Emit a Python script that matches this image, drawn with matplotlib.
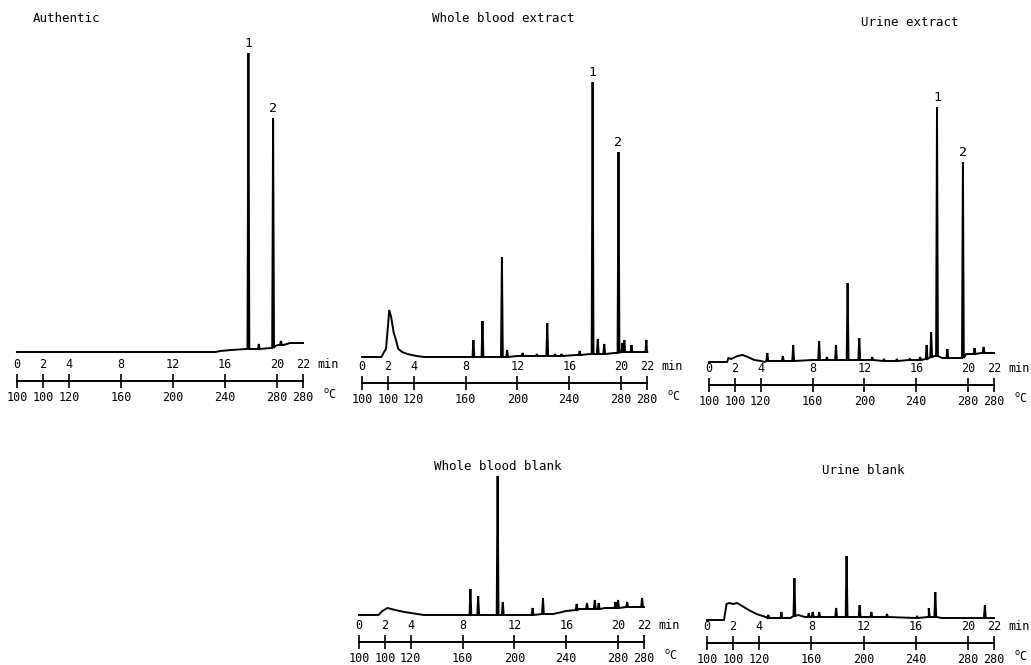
import matplotlib
matplotlib.use("Agg")
import matplotlib.pyplot as plt

W, H = 1031, 665

# ---------------- data -----------------
tick_min = [0, 2, 4, 8, 12, 16, 20, 22]
tick_temp = ["100", "100", "120", "160", "200", "240", "280", "280"]

titles = ["Authentic", "Whole blood extract", "Urine extract",
          "Whole blood blank", "Urine blank"]

# Authentic
a_base_t = [0, 8, 15.3, 15.6, 16.5, 17.6, 17.95, 18.4, 19.5, 19.85, 20.1, 20.5, 21.0, 22.0]
a_base_v = [0, 0, 0, 1, 2, 3, 3, 3, 4, 6, 7, 7, 9, 9]
a_peak_t = [17.8, 18.6, 19.7, 20.3]
a_peak_top = [299, 8, 234, 11]
a_peak_foot = [3, 3, 4, 7]

# Whole blood extract
b_base_t = [0, 1.5, 1.7, 1.85, 2.0, 2.1, 2.25, 2.45, 2.6, 2.8, 3.1, 3.5, 4.2, 4.8, 8.3,
            12.0, 15.0, 16.5, 17.6, 18.0, 19.5, 19.95, 21.0, 21.8, 22.0]
b_base_v = [0, 0, 5, 8, 30, 47, 40, 24, 18, 8, 5, 3, 1, 0, 0,
            1, 1, 2, 3, 3, 4, 5, 5, 5, 5]
b_peak_t = [8.6, 9.3, 10.8, 11.2, 12.4, 13.5, 14.3, 14.9, 15.4, 16.8,
            17.8, 18.2, 18.7, 19.8, 20.1, 20.25, 20.8, 21.95]
b_peak_top = [17, 36, 100, 7, 4, 3, 34, 3, 3, 6,
              275, 18, 13, 205, 14, 17, 12, 17]
b_peak_foot = [0, 0, 0, 0, 1, 1, 1, 1, 1, 2,
               3, 3, 3, 4, 5, 5, 5, 5]

# Urine extract
c_base_t = [0, 1.4, 1.5, 1.7, 2.2, 2.6, 3.0, 3.5, 4.0, 4.3, 6.0, 8.0, 10.0, 12.0,
            14.0, 16.0, 17.0, 17.4, 18.0, 19.4, 19.85, 21.0, 22.0]
c_base_v = [0, 0, 4, 3, 6, 7, 5, 2, 1, 0, 1, 2, 2, 2,
            1, 2, 4, 6, 4, 4, 8, 9, 9]
c_peak_t = [4.5, 5.7, 6.5, 8.5, 9.1, 9.8, 10.7, 11.6, 12.6, 13.5, 14.5, 15.5, 16.3,
            16.8, 17.15, 17.6, 18.4, 19.6, 20.5, 21.2]
c_peak_top = [9, 6, 17, 21, 5, 17, 79, 24, 5, 3, 3, 3, 5,
              17, 30, 255, 13, 200, 14, 15]
c_peak_foot = [1, 1, 1, 2, 2, 2, 2, 2, 2, 1, 1, 2, 2,
               3, 5, 6, 4, 4, 8, 9]

# Whole blood blank
d_base_t = [0, 1.5, 1.8, 2.2, 2.8, 3.5, 4.5, 5.0, 8.4, 15.0, 16.0, 17.0, 19.0, 21.0, 22.0]
d_base_v = [0, 0, 4, 7, 5, 3, 1, 0, 0, 1, 4, 6, 7, 8, 8]
d_peak_t = [8.6, 9.2, 10.7, 11.1, 13.4, 14.2, 16.8, 17.6, 18.2, 18.5,
            19.8, 20.0, 20.7, 21.85]
d_peak_top = [26, 19, 139, 13, 7, 17, 11, 12, 15, 12, 13, 15, 13, 17]
d_peak_foot = [0, 0, 0, 0, 0, 1, 5, 6, 6, 6, 7, 7, 8, 8]

# Urine blank
e_base_t = [0, 1.3, 1.5, 1.7, 2.0, 2.3, 2.7, 3.2, 3.8, 4.5, 5.0, 6.4, 7.0, 7.5, 8.0,
            12.0, 16.0, 17.0, 18.0, 22.0]
e_base_v = [0, 0, 16, 17, 16, 17, 14, 10, 6, 3, 2, 2, 5, 3, 3,
            3, 2, 3, 2, 2]
e_peak_t = [4.7, 5.7, 6.7, 7.8, 8.1, 8.6, 9.9, 10.7, 11.7, 12.6, 13.8, 16.1,
            17.0, 17.5, 21.3]
e_peak_top = [5, 8, 42, 7, 8, 8, 12, 64, 15, 8, 6, 4, 12, 28, 15]
e_peak_foot = [2, 2, 4, 3, 3, 3, 3, 3, 3, 3, 3, 2, 3, 3, 2]

# ------------- layout (pixels) -------------
# (x at 0 min, x at 22 min, baseline y, axis y, title x, title y)
layout = [
    (17, 303, 352, 381, 67, 18),
    (362, 647, 357, 383, 503, 18),
    (709, 994, 362, 385, 910, 22),
    (359, 644, 615, 642, 498, 467),
    (707, 994, 620, 643, 863, 471),
]

series = [
    (a_base_t, a_base_v, a_peak_t, a_peak_top, a_peak_foot),
    (b_base_t, b_base_v, b_peak_t, b_peak_top, b_peak_foot),
    (c_base_t, c_base_v, c_peak_t, c_peak_top, c_peak_foot),
    (d_base_t, d_base_v, d_peak_t, d_peak_top, d_peak_foot),
    (e_base_t, e_base_v, e_peak_t, e_peak_top, e_peak_foot),
]

labelled = {0: [(17.8, "1"), (19.7, "2")],
            1: [(17.8, "1"), (19.8, "2")],
            2: [(17.6, "1"), (19.6, "2")]}

FONT = "DejaVu Sans Mono"
plt.rcParams["font.family"] = [FONT]

fig = plt.figure(figsize=(W / 100, H / 100), dpi=100)
fig.patch.set_facecolor("white")


def build(bt, bv, pt, ptop, pfoot, w=0.07):
    pts = list(zip(bt, bv))
    for t, top, f in zip(pt, ptop, pfoot):
        pts += [(t - w, f), (t, top), (t + w, f)]
    pts.sort(key=lambda p: p[0])
    return [p[0] for p in pts], [p[1] for p in pts]


for i, ((x0, x22, by, ay, tx, ty), data) in enumerate(zip(layout, series)):
    top_px = 30 if i < 3 else 455
    left = x0 / W
    width = (x22 - x0) / W
    bottom = 1 - ay / H
    height = (ay - top_px) / H
    ax = fig.add_axes([left, bottom, width, height])
    ax.set_xlim(0, 22)
    ax.set_ylim(by - ay, by - top_px)
    ax.axis("off")
    xs, ys = build(*data)
    ax.plot(xs, ys, color="black", lw=1.4, clip_on=False, solid_joinstyle="miter")
    for t, lab in labelled.get(i, []):
        idx = data[2].index(t)
        ax.annotate(lab, xy=(t, data[3][idx]), xytext=(0, 2), textcoords="offset points",
                    ha="center", va="bottom", fontsize=9.5)

    # scale axes (time on top, temperature below)
    sa = fig.add_axes([left, bottom, width, 0.0001])
    sa.set_xlim(0, 22)
    sa.set_yticks([])
    for s in ["top", "left", "right"]:
        sa.spines[s].set_visible(False)
    sa.spines["bottom"].set_linewidth(1.4)
    sa.set_xticks(tick_min)
    sa.set_xticklabels(tick_temp)
    sa.tick_params(axis="x", direction="inout", length=10, width=1.2, pad=2,
                   labelsize=8.5)
    st = sa.twiny()
    st.set_xlim(0, 22)
    for s in st.spines.values():
        s.set_visible(False)
    st.set_xticks(tick_min)
    st.set_xticklabels([str(v) for v in tick_min])
    st.tick_params(axis="x", length=0, pad=7, labelsize=8.5)
    sa.annotate("min", xy=(22, 0), xycoords=("data", "axes fraction"), xytext=(18, 7),
                textcoords="offset points", ha="center", va="bottom", fontsize=8.5)
    sa.annotate("$^{\\mathrm{o}}$C", xy=(22, 0), xycoords=("data", "axes fraction"),
                xytext=(19, -5), textcoords="offset points", ha="center", va="top",
                fontsize=8.5)

    fig.text(tx / W, 1 - ty / H, titles[i], ha="center", va="center", fontsize=9)

fig.savefig("out.png", dpi=100, facecolor="white")
